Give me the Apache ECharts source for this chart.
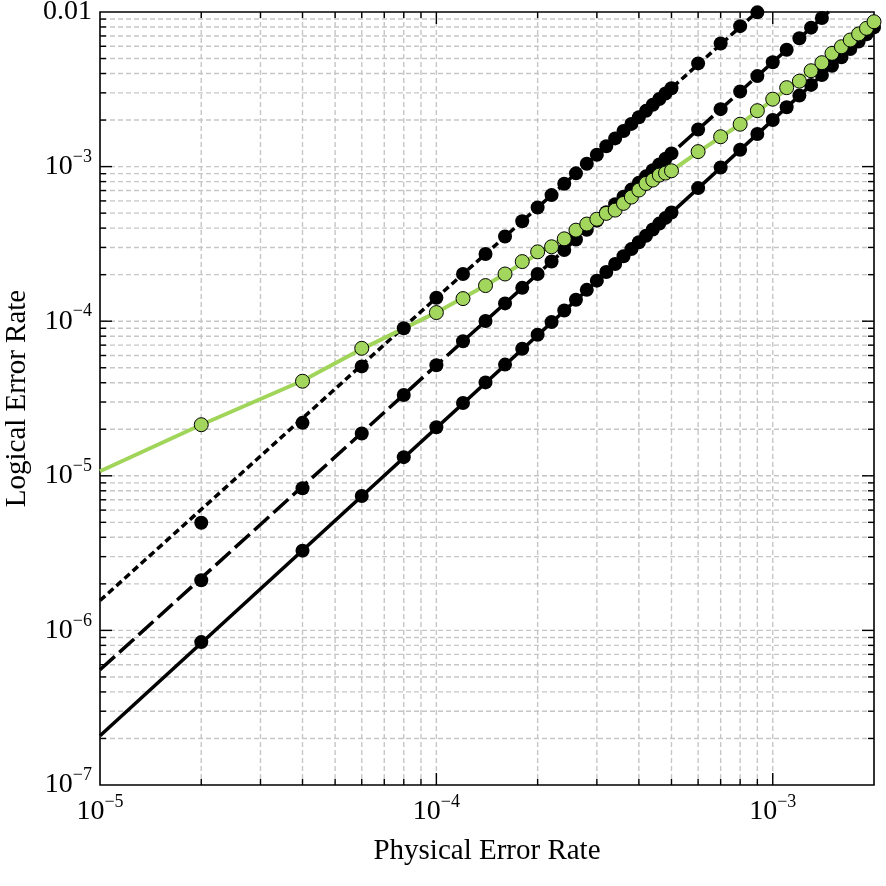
<!DOCTYPE html>
<html>
<head>
<meta charset="utf-8">
<script src="https://cdn.jsdelivr.net/npm/echarts@6/dist/echarts.min.js"></script>
<style>
  html, body { margin: 0; padding: 0; background: #fff; }
  #chart { width: 886px; height: 886px; }
</style>
</head>
<body>
<div id="chart"></div>
<script>
// physical error rates at which the logical error rate was sampled
var pGrid = [2e-5, 4e-5, 6e-5, 8e-5, 1e-4, 1.2e-4, 1.4e-4, 1.6e-4, 1.8e-4, 2e-4,
    2.2e-4, 2.4e-4, 2.6e-4, 2.8e-4, 3e-4, 3.2e-4, 3.4e-4, 3.6e-4, 3.8e-4, 4e-4,
    4.2e-4, 4.4e-4, 4.6e-4, 4.8e-4, 5e-4, 6e-4, 7e-4, 8e-4, 9e-4, 1e-3,
    1.1e-3, 1.2e-3, 1.3e-3, 1.4e-3, 1.5e-3, 1.6e-3, 1.7e-3, 1.8e-3, 1.9e-3, 2e-3];

var solidY = [8.40e-7, 3.28e-6, 7.40e-6, 1.32e-5, 2.06e-5, 2.96e-5, 4.02e-5, 5.24e-5, 6.63e-5, 8.17e-5,
    9.87e-5, 1.174e-4, 1.377e-4, 1.595e-4, 1.830e-4, 2.080e-4, 2.346e-4, 2.629e-4, 2.927e-4, 3.241e-4,
    3.572e-4, 3.918e-4, 4.280e-4, 4.658e-4, 5.051e-4, 7.26e-4, 9.86e-4, 1.286e-3, 1.625e-3, 2.004e-3,
    2.422e-3, 2.879e-3, 3.376e-3, 3.911e-3, 4.486e-3, 5.100e-3, 5.754e-3, 6.446e-3, 7.178e-3, 7.948e-3];

var dashedY = [2.11e-6, 8.3e-6, 1.878e-5, 3.33e-5, 5.19e-5, 7.42e-5, 1.004e-4, 1.304e-4, 1.643e-4, 2.019e-4,
    2.434e-4, 2.887e-4, 3.377e-4, 3.905e-4, 4.471e-4, 5.073e-4, 5.713e-4, 6.39e-4, 7.10e-4, 7.86e-4,
    8.65e-4, 9.47e-4, 1.033e-3, 1.123e-3, 1.217e-3, 1.739e-3, 2.353e-3, 3.057e-3, 3.85e-3, 4.733e-3,
    5.70e-3, 6.77e-3, 7.92e-3, 9.15e-3, 1.048e-2, null, null, null, null, null];

var dottedY = [4.97e-6, 2.2e-5, 5.1e-5, 9.0e-5, 1.417e-4, 2.018e-4, 2.722e-4, 3.527e-4, 4.432e-4, 5.437e-4,
    6.54e-4, 7.745e-4, 9.045e-4, 1.044e-3, 1.194e-3, 1.353e-3, 1.522e-3, 1.700e-3, 1.889e-3, 2.086e-3,
    2.294e-3, 2.510e-3, 2.736e-3, 2.971e-3, 3.215e-3, 4.65e-3, 6.25e-3, 8.1e-3, 9.95e-3, null,
    null, null, null, null, null, null, null, null, null, null];

var greenY = [2.14e-5, 4.09e-5, 6.68e-5, null, 1.137e-4, 1.40e-4, 1.70e-4, 2.02e-4, 2.43e-4, 2.81e-4,
    3.03e-4, 3.41e-4, 3.88e-4, 4.25e-4, 4.57e-4, 4.98e-4, 5.23e-4, 5.78e-4, 6.35e-4, 7.05e-4,
    7.78e-4, 8.18e-4, 8.81e-4, 9.08e-4, 9.40e-4, 1.25e-3, 1.56e-3, 1.88e-3, 2.30e-3, 2.73e-3,
    3.24e-3, 3.57e-3, 4.17e-3, 4.70e-3, 5.40e-3, 5.96e-3, 6.59e-3, 7.21e-3, 7.84e-3, 8.65e-3];

// fitted curves
var solidFitP = [1e-5, 2e-3];
var solidFitY = [2.08e-7, 7.95e-3];
var dashedFitP = [1e-5, 1e-4, 2e-3];
var dashedFitY = [5.56e-7, 5.19e-5, 1.84e-2];
var dottedFitP = [1e-5, 1e-4, 2e-3];
var dottedFitY = [1.56e-6, 1.417e-4, 4.73e-2];
var greenFitP = [1e-5, 2e-5, 4e-5, 6e-5, 1e-4, 1.4e-4, 2e-4, 2.6e-4, 3.2e-4, 4e-4, 5e-4, 6e-4, 8e-4, 1e-3, 1.4e-3, 2e-3];
var greenFitY = [1.07e-5, 2.14e-5, 4.12e-5, 6.6e-5, 1.14e-4, 1.70e-4, 2.72e-4, 3.85e-4, 4.98e-4, 6.9e-4, 9.4e-4, 1.24e-3, 1.88e-3, 2.70e-3, 4.75e-3, 8.7e-3];

var xMin = 1e-5, xMax = 2e-3, yMin = 1e-7, yMax = 1e-2;

var FONT = 'Liberation Serif';
var GREEN = '#a3d65c';

function pairs(xs, ys) {
    var out = [];
    for (var i = 0; i < xs.length; i++) {
        if (ys[i] != null) out.push([xs[i], ys[i]]);
    }
    return out;
}

// grid positions (1..9 per decade)
function decadeGrid(lo, hi, refOther, isX) {
    var out = [];
    for (var e = -8; e <= -1; e++) {
        for (var m = 1; m <= 9; m++) {
            var v = m * Math.pow(10, e);
            if (v > lo * 1.0001 && v < hi * 0.9999) {
                out.push(isX ? [v, refOther, m === 1 ? 1 : 0] : [refOther, v, m === 1 ? 1 : 0]);
            }
        }
    }
    return out;
}

function powLabel(v) {
    var e = Math.round(Math.log10(v));
    if (Math.abs(v / Math.pow(10, e) - 1) > 1e-6) return '';
    if (e === -2) return '{b|0.01}';
    return '{b|10}{s|\u2212' + Math.abs(e) + '}';
}

var labelRich = {
    b: { fontSize: 28, fontFamily: FONT, color: '#000' },
    s: { fontSize: 18, fontFamily: FONT, color: '#000', padding: [0, 0, 19, 0] }
};

function gridRender(isX) {
    return function (params, api) {
        var cs = params.coordSys;
        var major = api.value(2) === 1;
        var tl = major ? 12 : 6;
        var dash = { stroke: '#c6c6c6', lineWidth: 1.4, lineDash: [5, 3] };
        var tick = { stroke: '#000', lineWidth: 1.4 };
        if (isX) {
            var x = api.coord([api.value(0), 1e-4])[0];
            var t = cs.y, b = cs.y + cs.height;
            return { type: 'group', silent: true, children: [
                { type: 'line', shape: { x1: x, y1: t + 2, x2: x, y2: b - 2 }, style: dash },
                { type: 'line', shape: { x1: x, y1: b, x2: x, y2: b - tl }, style: tick },
                { type: 'line', shape: { x1: x, y1: t, x2: x, y2: t + tl }, style: tick }
            ] };
        }
        var y = api.coord([1e-4, api.value(1)])[1];
        var l = cs.x, r = cs.x + cs.width;
        return { type: 'group', silent: true, children: [
            { type: 'line', shape: { x1: l + 2, y1: y, x2: r - 2, y2: y }, style: dash },
            { type: 'line', shape: { x1: l, y1: y, x2: l + tl, y2: y }, style: tick },
            { type: 'line', shape: { x1: r, y1: y, x2: r - tl, y2: y }, style: tick }
        ] };
    };
}

function fitLine(xs, ys, type, color, width) {
    return {
        type: 'line', data: pairs(xs, ys), symbol: 'none', z: 3, clip: true,
        lineStyle: { color: color, width: width, type: type, cap: 'butt' },
        emphasis: { disabled: true }, silent: true
    };
}

function dots(ys, fill, border) {
    return {
        type: 'scatter', data: pairs(pGrid, ys), symbol: 'circle', symbolSize: 14, z: 4, clip: true,
        itemStyle: { color: fill, borderColor: '#000', borderWidth: border, opacity: 1 },
        emphasis: { disabled: true }, silent: true
    };
}

var chart = echarts.init(document.getElementById('chart'), null, { renderer: 'canvas' });
chart.setOption({
    animation: false,
    backgroundColor: '#fff',
    grid: {
        left: 100, right: 12, top: 12, bottom: 101,
        outerBoundsMode: 'none', containLabel: false,
        show: true, borderColor: '#000', borderWidth: 1.6, backgroundColor: 'transparent'
    },
    xAxis: {
        type: 'log', logBase: 10, min: xMin, max: xMax,
        axisLine: { show: false },
        axisTick: { show: false },
        splitLine: { show: false },
        minorTick: { show: false },
        axisLabel: { formatter: powLabel, rich: labelRich, margin: 8, showMinLabel: true, showMaxLabel: true },
        name: 'Physical Error Rate', nameLocation: 'middle', nameGap: 52,
        nameTextStyle: { fontFamily: FONT, fontSize: 29, color: '#000' }
    },
    yAxis: {
        type: 'log', logBase: 10, min: yMin, max: yMax,
        axisLine: { show: false },
        axisTick: { show: false },
        splitLine: { show: false },
        minorTick: { show: false },
        axisLabel: { formatter: powLabel, rich: labelRich, margin: 8, showMinLabel: true, showMaxLabel: true },
        name: 'Logical Error Rate', nameLocation: 'middle', nameGap: 60,
        nameTextStyle: { fontFamily: FONT, fontSize: 29, color: '#000' }
    },
    series: [
        { type: 'custom', renderItem: gridRender(true), data: decadeGrid(xMin, xMax, 1e-4, true), z: 1, silent: true },
        { type: 'custom', renderItem: gridRender(false), data: decadeGrid(yMin, yMax, 1e-4, false), z: 1, silent: true },
        fitLine(solidFitP, solidFitY, 'solid', '#000', 3.5),
        fitLine(dashedFitP, dashedFitY, [20, 6], '#000', 3.5),
        fitLine(dottedFitP, dottedFitY, [7, 4], '#000', 3.5),
        dots(solidY, '#000', 0),
        dots(dashedY, '#000', 0),
        dots(dottedY, '#000', 0),
        fitLine(greenFitP, greenFitY, 'solid', '#a0d55a', 4),
        dots(greenY, GREEN, 1)
    ]
});
</script>
</body>
</html>
